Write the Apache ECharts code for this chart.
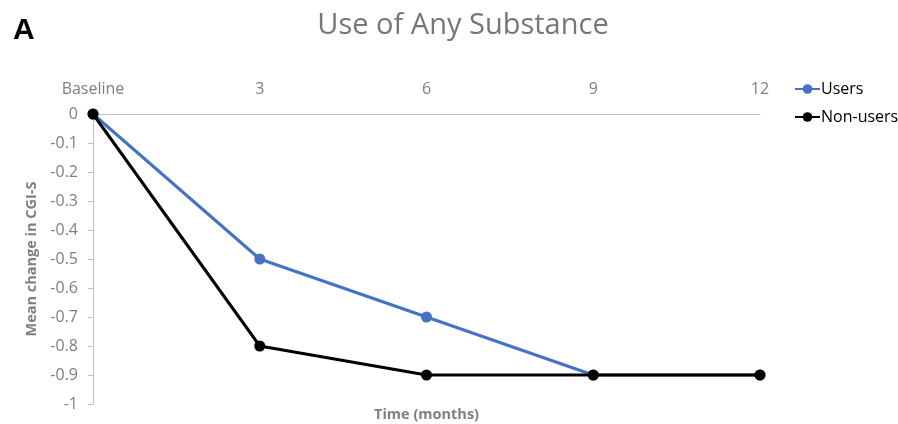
<!DOCTYPE html>
<html>
<head>
<meta charset="utf-8">
<script src="https://cdn.jsdelivr.net/npm/echarts@6/dist/echarts.min.js"></script>
<style>
  html, body { margin: 0; padding: 0; background: #fff; }
  #chart { width: 898px; height: 424px; }
</style>
</head>
<body>
<div id="chart"></div>
<script>
// 时间点（月）
const categories = ['Baseline', '3', '6', '9', '12']
const usersData = [0, -0.5, -0.7, -0.9, -0.9]
const nonUsersData = [0, -0.8, -0.9, -0.9, -0.9]

const grayText = '#7f7f7f'
const font = 'Open Sans'

var myChart = echarts.init(document.getElementById('chart'))
const option = {
  animation: false,
  textStyle: { fontFamily: font },
  title: [
    {
      text: 'Use of Any Substance',
      left: 458,
      top: 6,
      textAlign: 'center',
      textStyle: { color: '#767676', fontSize: 29, fontWeight: 'normal', fontFamily: font }
    },
    {
      text: 'A',
      left: 8,
      top: 11,
      textStyle: { color: '#000', fontSize: 30, fontWeight: 'bold', fontFamily: 'Liberation Sans' }
    }
  ],
  // 图例
  legend: {
    orient: 'vertical',
    left: 789,
    top: 76,
    itemGap: 12,
    itemWidth: 25,
    itemHeight: 12,
    textStyle: { color: '#000', fontSize: 16, fontFamily: font, padding: [0, 0, 0, -4] },
    data: ['Users', 'Non-users']
  },
  grid: {
    left: 93,
    right: 138,
    top: 114,
    bottom: 20,
    outerBoundsMode: 'none'
  },
  xAxis: {
    type: 'category',
    position: 'top',
    boundaryGap: false,
    data: categories,
    name: 'Time (months)',
    nameLocation: 'middle',
    nameGap: -308,
    nameTextStyle: { color: grayText, fontSize: 14.5, fontWeight: 'bold', fontFamily: font },
    axisLine: { lineStyle: { color: '#bfbfbf', width: 1 } },
    axisTick: { show: false },
    axisLabel: { color: grayText, fontSize: 16, margin: 17 }
  },
  yAxis: {
    type: 'value',
    min: -1,
    max: 0,
    interval: 0.1,
    name: 'Mean change in CGI-S',
    nameLocation: 'middle',
    nameGap: 50,
    nameTextStyle: { color: grayText, fontSize: 14.5, fontWeight: 'bold', fontFamily: font },
    splitLine: { show: false },
    axisLine: { show: true, lineStyle: { color: '#bfbfbf', width: 1 } },
    axisTick: { show: true, length: 5, lineStyle: { color: '#bfbfbf' } },
    axisLabel: {
      color: grayText,
      fontSize: 16,
      margin: 15,
      formatter: v => String(Math.round(v * 10) / 10)
    }
  },
  series: [
    {
      name: 'Users',
      type: 'line',
      data: usersData,
      symbol: 'circle',
      symbolSize: 11,
      z: 2,
      itemStyle: { color: '#4472c4' },
      lineStyle: { color: '#4472c4', width: 3 }
    },
    {
      name: 'Non-users',
      type: 'line',
      data: nonUsersData,
      symbol: 'circle',
      symbolSize: 11,
      z: 3,
      itemStyle: { color: '#000' },
      lineStyle: { color: '#000', width: 3 }
    }
  ]
}
myChart.setOption(option)
</script>
</body>
</html>
